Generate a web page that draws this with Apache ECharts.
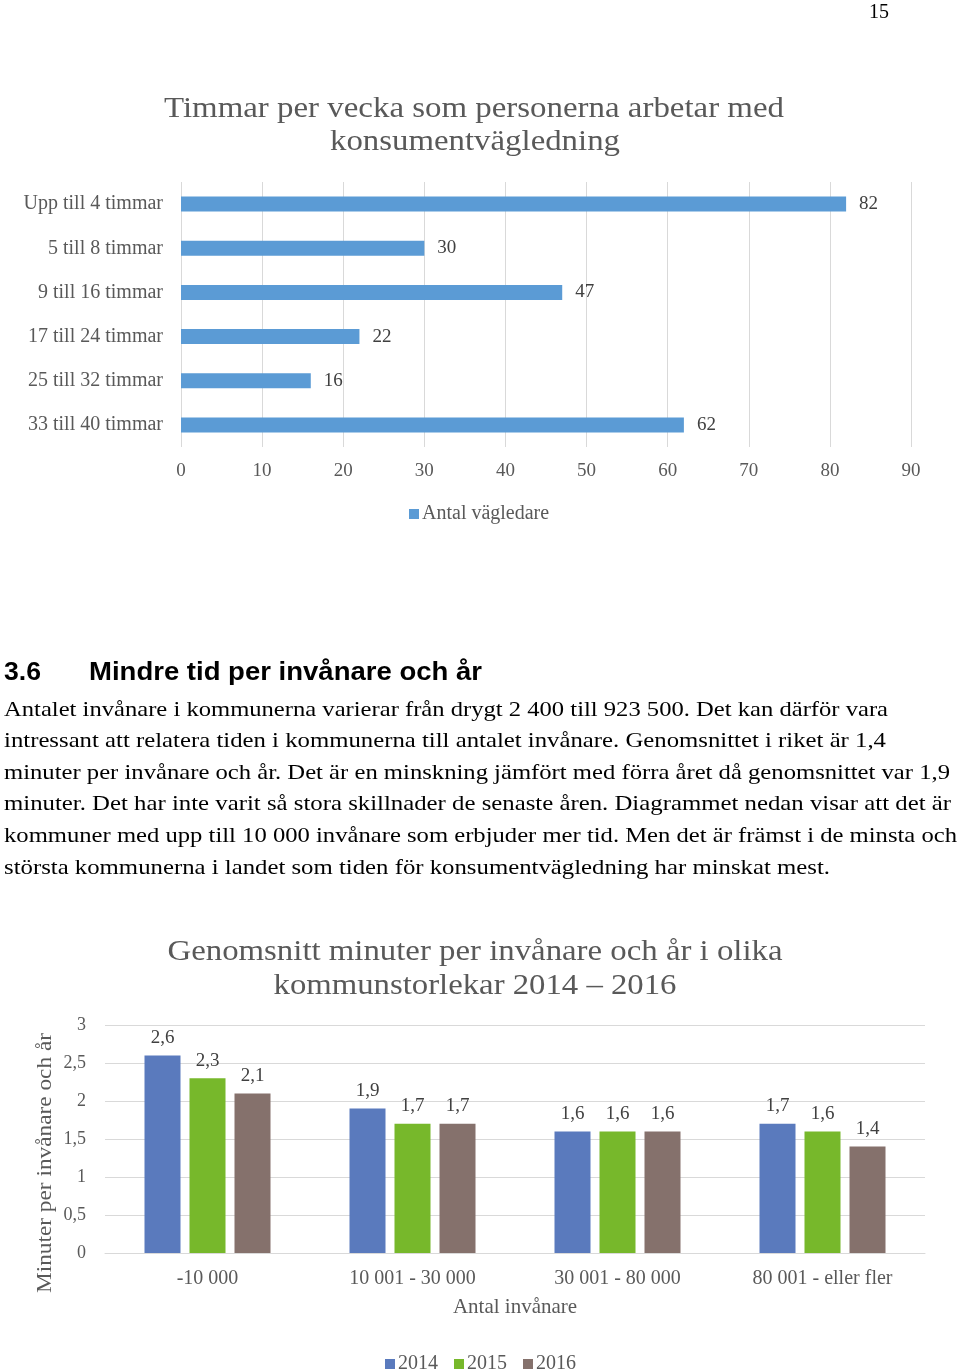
<!DOCTYPE html>
<html><head><meta charset="utf-8">
<script src="https://cdn.jsdelivr.net/npm/echarts@6/dist/echarts.min.js"></script>
<style>html,body{margin:0;padding:0;background:#fff}#c{width:960px;height:1371px}</style>
</head><body><div id="c"></div>
<script>
// Chart 1 data
const hourCategories = ['Upp till 4 timmar','5 till 8 timmar','9 till 16 timmar','17 till 24 timmar','25 till 32 timmar','33 till 40 timmar'];
const hourValues = [82, 30, 47, 22, 16, 62];
const hourSeriesName = 'Antal vägledare';
const chart1Title = ['Timmar per vecka som personerna arbetar med', 'konsumentvägledning'];
// Chart 2 data
const sizeCategories = ['-10 000','10 001 - 30 000','30 001 - 80 000','80 001 - eller fler'];
const years = ['2014','2015','2016'];
const values2014 = [2.6, 1.9, 1.6, 1.7];
const values2015 = [2.3, 1.7, 1.6, 1.6];
const values2016 = [2.1, 1.7, 1.6, 1.4];
const chart2Title = ['Genomsnitt minuter per invånare och år i olika', 'kommunstorlekar 2014 – 2016'];
const chart2YName = 'Minuter per invånare och år';
const chart2XName = 'Antal invånare';
// Page text
const pageNumber = '15';
const headingNumber = '3.6';
const headingText = 'Mindre tid per invånare och år';
const paragraphLines = [
 'Antalet invånare i kommunerna varierar från drygt 2 400 till 923 500. Det kan därför vara',
 'intressant att relatera tiden i kommunerna till antalet invånare. Genomsnittet i riket är 1,4',
 'minuter per invånare och år. Det är en minskning jämfört med förra året då genomsnittet var 1,9',
 'minuter. Det har inte varit så stora skillnader de senaste åren. Diagrammet nedan visar att det är',
 'kommuner med upp till 10 000 invånare som erbjuder mer tid. Men det är främst i de minsta och',
 'största kommunerna i landet som tiden för konsumentvägledning har minskat mest.'
];
// layout: right edge of each paragraph line (page is justified)
const paragraphRight = [888, 886, 950, 951, 957, 830];

const SERIF = '"Liberation Serif", "Times New Roman", serif';
const SANS = '"Liberation Sans", Arial, sans-serif';
const comma = v => String(v).replace('.', ',');
const yearColors = ['#5a7abd', '#77b82b', '#85716c'];

const mctx = document.createElement('canvas').getContext('2d');
function textWidth(t, font) { mctx.font = font; return mctx.measureText(t).width; }
// text stretched horizontally to imitate the spaced typesetting of the original
function stretched(t, font, x, y, target, align, fill, rotation) {
  const s = target / textWidth(t, font);
  return {type:'text', x: x, y: y, scaleX: s, rotation: rotation || 0, silent: true,
    style:{text: t, font: font, fill: fill, textAlign: align || 'left', textVerticalAlign: 'middle'}};
}

const chart = echarts.init(document.getElementById('c'), null, {renderer: 'canvas'});

const titleFont = '29px ' + SERIF;
const graphic = [
  {type:'text', x: 869, y: 13, silent:true, style:{text: pageNumber, font:'20px ' + SERIF, fill:'#000', textVerticalAlign:'middle'}},
  stretched(headingNumber, 'bold 26px ' + SANS, 4, 673, 37, 'left', '#000'),
  stretched(headingText, 'bold 26px ' + SANS, 89, 673, 393, 'left', '#000'),
  stretched(chart1Title[0], titleFont, 474, 109, 620, 'center', '#595959'),
  stretched(chart1Title[1], titleFont, 475, 142, 290, 'center', '#595959'),
  stretched(chart2Title[0], titleFont, 475, 952, 615, 'center', '#595959'),
  stretched(chart2Title[1], titleFont, 475, 986, 403, 'center', '#595959'),
  stretched(chart2YName, '21px ' + SERIF, 45, 1163, 260, 'center', '#595959', Math.PI / 2)
];
paragraphLines.forEach((t, i) => {
  graphic.push(stretched(t, '21px ' + SERIF, 4, 710 + i * 31.6, paragraphRight[i] - 4, 'left', '#000'));
});

const option = {
  animation: false,
  textStyle: {fontFamily: SERIF},
  graphic: graphic,
  legend: [
    {data: [hourSeriesName], left: 404, top: 499, itemWidth: 10, itemHeight: 10, icon: 'rect', itemGap: 5,
     textStyle:{fontFamily: SERIF, fontSize: 20, color:'#595959', padding:[0,0,0,-2]}},
    {data: years, left: 380, top: 1349, itemWidth: 10, itemHeight: 10, icon: 'rect', itemGap: 16,
     textStyle:{fontFamily: SERIF, fontSize: 20, color:'#595959', padding:[0,0,0,-2]}}
  ],
  grid: [
    {left: 181, right: 49, top: 182, bottom: 1371 - 447},
    {left: 105, right: 35, top: 1025, bottom: 1371 - 1253}
  ],
  xAxis: [
    {gridIndex: 0, type: 'value', min: 0, max: 90, interval: 10,
     axisLine:{show:false}, axisTick:{show:false},
     splitLine:{show:true, lineStyle:{color:'#d9d9d9', width:1}},
     axisLabel:{color:'#595959', fontSize: 19, fontFamily: SERIF, margin: 15}},
    {gridIndex: 1, type: 'category', data: sizeCategories,
     axisLine:{show:true, lineStyle:{color:'#d9d9d9'}}, axisTick:{show:false},
     axisLabel:{color:'#595959', fontSize: 20, fontFamily: SERIF, margin: 16},
     name: chart2XName, nameLocation: 'middle', nameGap: 44,
     nameTextStyle:{color:'#595959', fontSize: 21, fontFamily: SERIF}}
  ],
  yAxis: [
    {gridIndex: 0, type: 'category', data: hourCategories, inverse: true,
     axisLine:{show:false}, axisTick:{show:false},
     axisLabel:{color:'#595959', fontSize: 20, fontFamily: SERIF, margin: 18}},
    {gridIndex: 1, type: 'value', min: 0, max: 3, interval: 0.5,
     axisLine:{show:false}, axisTick:{show:false},
     splitLine:{show:true, lineStyle:{color:'#d9d9d9', width:1}},
     axisLabel:{color:'#595959', fontSize: 18, fontFamily: SERIF, margin: 19, formatter: comma}}
  ],
  series: [
    {name: hourSeriesName, type: 'bar', xAxisIndex: 0, yAxisIndex: 0, data: hourValues, barWidth: 15,
     itemStyle:{color:'#5b9bd5'},
     label:{show:true, position:'right', distance: 13, color:'#404040', fontSize: 19, fontFamily: SERIF}},
    ...years.map((y, i) => ({
      name: y, type: 'bar', xAxisIndex: 1, yAxisIndex: 1,
      data: [values2014, values2015, values2016][i], barWidth: 36, barGap: '25%',
      itemStyle:{color: yearColors[i]},
      label:{show:true, position:'top', distance: 8, color:'#404040', fontSize: 19, fontFamily: SERIF, formatter: p => comma(p.value)}
    }))
  ]
};
chart.setOption(option);
</script>
</body></html>
